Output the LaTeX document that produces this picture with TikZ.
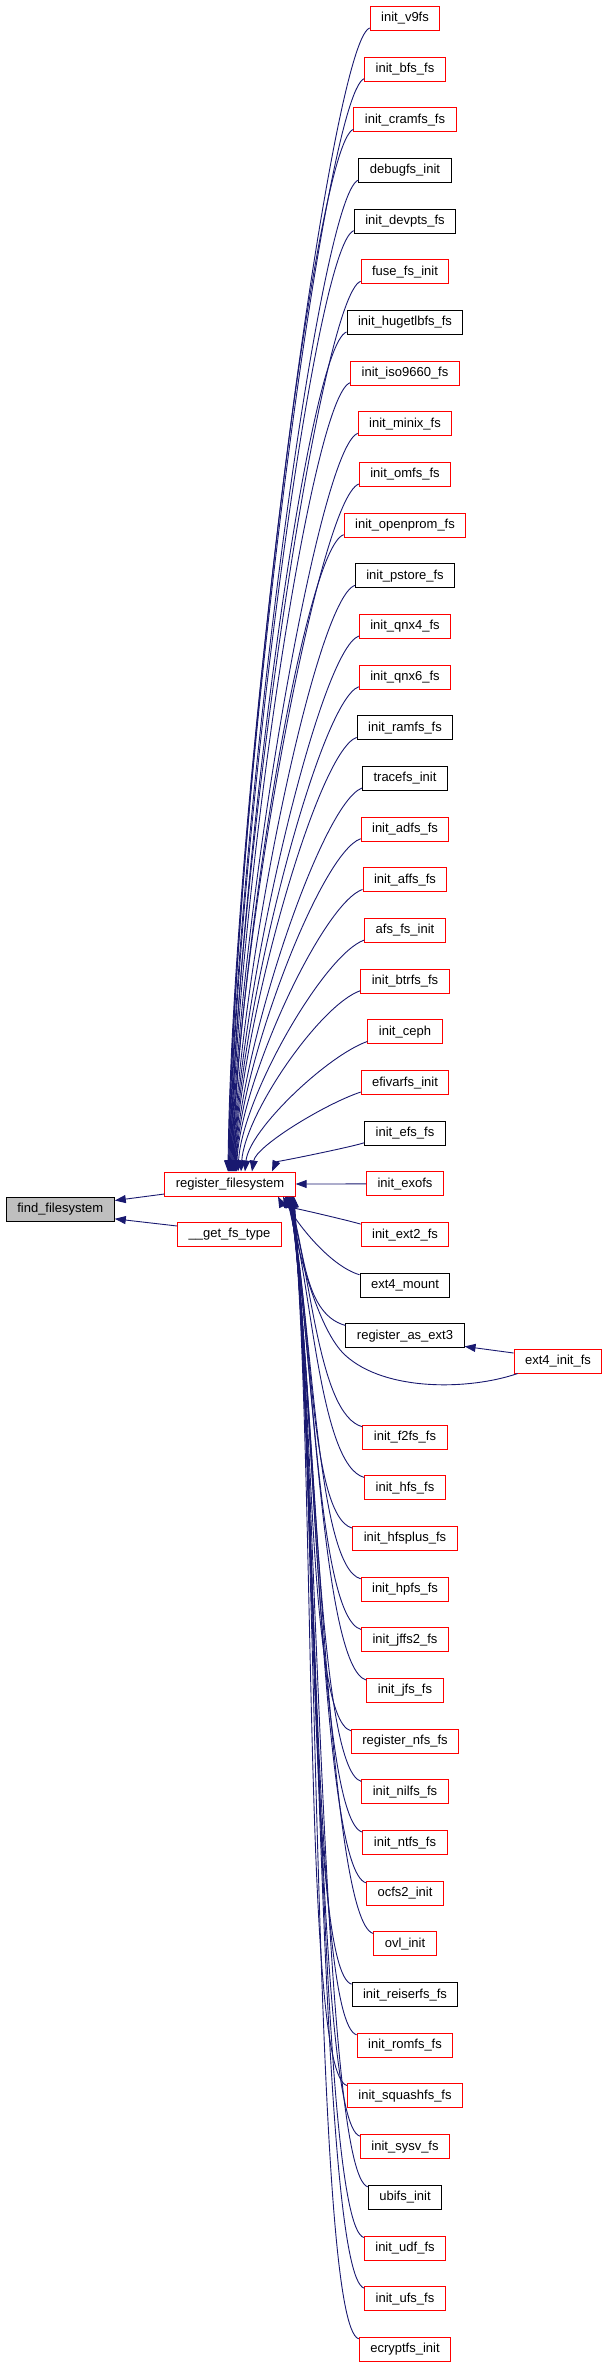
\documentclass[tikz,border=0pt]{standalone}
\usepackage{fontspec}
\setmainfont{Liberation Sans}
\usetikzlibrary{arrows.meta,calc}
\definecolor{midblue}{HTML}{191970}
\definecolor{boxred}{HTML}{FF0000}
\definecolor{findgray}{HTML}{BFBFBF}
\begin{document}
\begin{tikzpicture}[x=1pt,y=-1pt,
  fnode/.style={draw, line width=1pt, inner xsep=11pt, inner ysep=0pt, minimum height=24pt, font=\fontsize{13}{15}\selectfont, fill=white},
  rednode/.style={fnode, draw=boxred},
  blknode/.style={fnode, draw=black},
  calledge/.style={draw=midblue, line width=0.9pt, -{Triangle[length=11pt,width=8pt]}}]
\fill[white] (0,0) rectangle (608,2368);
\useasboundingbox (0,0) rectangle (608,2368);

\node[fnode, fill=findgray, draw=black] (find) at (60.3,1209.5) {find\_filesystem};
\node[rednode] (reg) at (230,1184) {register\_filesystem};
\node[rednode] (get) at (229.5,1234.5) {\_\_get\_fs\_type};

\foreach \i/\n/\t/\s in {
 0/v9fs/init\_v9fs/rednode,
 1/bfs/init\_bfs\_fs/rednode,
 2/cramfs/init\_cramfs\_fs/rednode,
 3/debugfs/debugfs\_init/blknode,
 4/devpts/init\_devpts\_fs/blknode,
 5/fuse/fuse\_fs\_init/rednode,
 6/hugetlbfs/init\_hugetlbfs\_fs/blknode,
 7/iso/init\_iso9660\_fs/rednode,
 8/minix/init\_minix\_fs/rednode,
 9/omfs/init\_omfs\_fs/rednode,
 10/openprom/init\_openprom\_fs/rednode,
 11/pstore/init\_pstore\_fs/blknode,
 12/qnxfour/init\_qnx4\_fs/rednode,
 13/qnxsix/init\_qnx6\_fs/rednode,
 14/ramfs/init\_ramfs\_fs/blknode,
 15/tracefs/tracefs\_init/blknode,
 16/adfs/init\_adfs\_fs/rednode,
 17/affs/init\_affs\_fs/rednode,
 18/afs/afs\_fs\_init/rednode,
 19/btrfs/init\_btrfs\_fs/rednode,
 20/ceph/init\_ceph/rednode,
 21/efivarfs/efivarfs\_init/rednode,
 22/efs/init\_efs\_fs/blknode,
 23/exofs/init\_exofs/rednode,
 24/ext2/init\_ext2\_fs/rednode,
 25/extmount/ext4\_mount/blknode,
 26/regext3/register\_as\_ext3/blknode,
 28/f2fs/init\_f2fs\_fs/rednode,
 29/hfs/init\_hfs\_fs/rednode,
 30/hfsplus/init\_hfsplus\_fs/rednode,
 31/hpfs/init\_hpfs\_fs/rednode,
 32/jffs/init\_jffs2\_fs/rednode,
 33/jfs/init\_jfs\_fs/rednode,
 34/nfs/register\_nfs\_fs/rednode,
 35/nilfs/init\_nilfs\_fs/rednode,
 36/ntfs/init\_ntfs\_fs/rednode,
 37/ocfs/ocfs2\_init/rednode,
 38/ovl/ovl\_init/rednode,
 39/reiserfs/init\_reiserfs\_fs/blknode,
 40/romfs/init\_romfs\_fs/rednode,
 41/squashfs/init\_squashfs\_fs/rednode,
 42/sysv/init\_sysv\_fs/rednode,
 43/ubifs/ubifs\_init/blknode,
 44/udf/init\_udf\_fs/rednode,
 45/ufs/init\_ufs\_fs/rednode,
 46/ecryptfs/ecryptfs\_init/rednode}{
  \pgfmathsetmacro\yc{18.5+50.67*\i}
  \node[\s] (\n) at (405,\yc) {\t};
}
\node[rednode] (extinit) at (558,1361) {ext4\_init\_fs};

% upper callers -> top of register_filesystem
\foreach \i/\n/\xe in {0/v9fs/228, 1/bfs/228.5, 2/cramfs/229, 3/debugfs/229.5, 4/devpts/230,
 5/fuse/230.5, 6/hugetlbfs/231, 7/iso/231.5, 8/minix/232, 9/omfs/232.5, 10/openprom/233,
 11/pstore/233.5, 12/qnxfour/234, 13/qnxsix/234.5, 14/ramfs/235, 15/tracefs/235.5,
 16/adfs/236, 17/affs/236.5, 18/afs/238, 19/btrfs/241, 20/ceph/245, 21/efivarfs/252, 22/efs/272}{
  \pgfmathsetmacro\D{1143.5-50.67*\i}
  \pgfmathsetmacro\cx{min(40,0.45*\D)}
  \pgfmathsetmacro\cy{min(14,0.15*\D)}
  \pgfmathsetmacro\dy{0.32*\D}
  \draw[calledge] ($(\n.south west)+(0,-3)$) .. controls +(-\cx,\cy) and +(4,-\dy) .. ($(reg.north)+(\xe-230,0)$);
}

% lower callers -> bottom of register_filesystem
\foreach \i/\n/\xe in {24/ext2/278, 25/extmount/283, 26/regext3/285, 28/f2fs/286, 29/hfs/286.5,
 30/hfsplus/287, 31/hpfs/287.5, 32/jffs/288, 33/jfs/288.5, 34/nfs/289, 35/nilfs/289.5,
 36/ntfs/290, 37/ocfs/290.5, 38/ovl/291, 39/reiserfs/291.5, 40/romfs/292, 41/squashfs/292,
 42/sysv/292.5, 43/ubifs/293, 44/udf/293, 45/ufs/293.5, 46/ecryptfs/294}{
  \pgfmathsetmacro\D{50.67*\i-1188.5}
  \pgfmathsetmacro\cx{min(45,0.4*\D)}
  \pgfmathsetmacro\cy{min(12,0.12*\D)}
  \pgfmathsetmacro\dy{0.3*\D}
  \pgfmathsetmacro\dx{min(25,0.15*\D)}
  \draw[calledge] ($(\n.north west)+(0,2)$) .. controls +(-\cx,-\cy) and +(\dx,\dy) .. ($(reg.south)+(\xe-230,0)$);
}

\draw[calledge] (exofs.west) -- (reg.east);
\draw[calledge] ($(extinit.west)+(0,-8)$) -- ($(regext3.south east)+(0,-2)$);
\draw[calledge] ($(extinit.south west)+(4,0)$) .. controls (470,1390) and (385,1392) .. (345,1355)
  .. controls (318,1330) and (298,1250) .. ($(reg.south)+(57,0)$);

\draw[calledge] ($(reg.south west)+(0,-2.5)$) -- ($(find.north east)+(0,3.5)$);
\draw[calledge] ($(get.north west)+(0,4)$) -- ($(find.south east)+(0,-3.2)$);
\end{tikzpicture}
\end{document}
